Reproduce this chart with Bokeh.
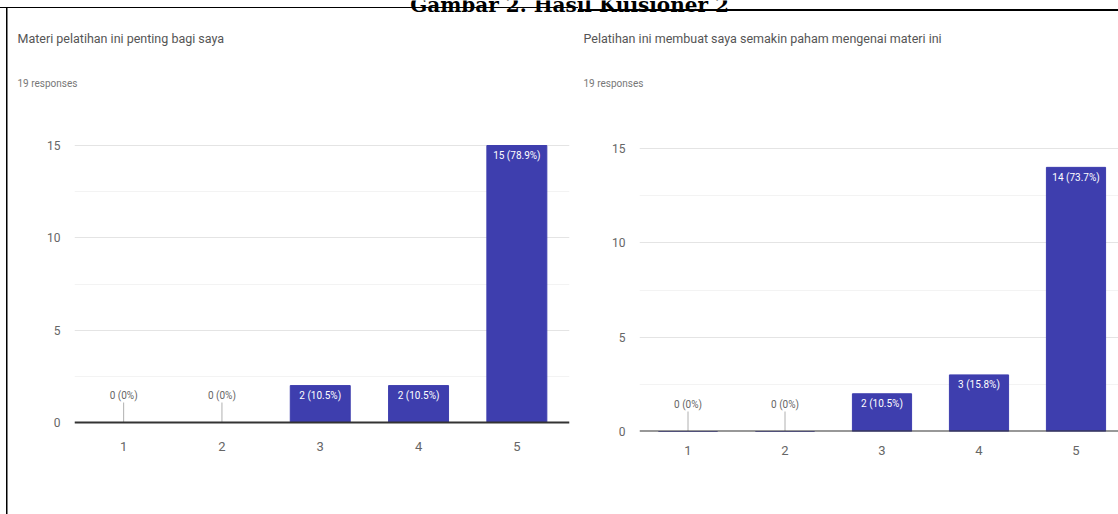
from bokeh.plotting import figure
from bokeh.layouts import row, column
from bokeh.models import ColumnDataSource, Label, Span, FixedTicker, Range1d
from bokeh.core.properties import value
from bokeh.embed import file_html
from bokeh.resources import INLINE

# ---------------- data ----------------
caption = "Gambar 2. Hasil Kuisioner 2"
title_1 = "Materi pelatihan ini penting bagi saya"
title_2 = "Pelatihan ini membuat saya semakin paham mengenai materi ini"
responses_text = "19 responses"
n_responses = 19
categories = [1, 2, 3, 4, 5]
category_labels = ["1", "2", "3", "4", "5"]
values_1 = [0, 0, 2, 2, 15]
values_2 = [0, 0, 2, 3, 14]
y_ticks = [0, 5, 10, 15]
y_minor_ticks = [2.5, 7.5, 12.5]

# ---------------- style / layout ----------------
BAR = "#3e3eae"
FONT = "Roboto"
W = 1118
H = 514
HEAD = 100                 # height of the header strip (texts above the charts)
CH = H - HEAD              # height of the chart figures
FRAME_TOP = 118 - HEAD     # frame top inside chart figures
FRAME_BOTTOM = 431 - HEAD  # frame bottom inside chart figures


def pct_label(v):
    if v == 0:
        return "0 (0%)"
    return f"{v} ({round(v / n_responses * 100, 1)}%)"


def make_chart(vals, off, width, fl, fr, y0px, y15px, spacing, xlab_standoff):
    y0 = y0px - HEAD
    y15 = y15px - HEAD
    ppu = (y0 - y15) / 15.0
    y_end = 15 + (y15 - FRAME_TOP) / ppu
    y_start = -(FRAME_BOTTOM - y0) / ppu
    x_end = 0.5 + (fr - fl) / spacing
    p = figure(width=width, height=CH, x_range=Range1d(0.5, x_end), y_range=Range1d(y_start, y_end),
               output_backend="svg", toolbar_location=None,
               min_border_left=fl - off, min_border_right=off + width - fr,
               min_border_top=FRAME_TOP, min_border_bottom=CH - FRAME_BOTTOM)
    p.outline_line_color = None
    p.background_fill_color = None
    p.border_fill_color = None

    p.xaxis.ticker = FixedTicker(ticks=categories)
    p.xaxis.major_label_overrides = {c: l for c, l in zip(categories, category_labels)}
    p.xaxis.axis_line_color = None
    p.xaxis.major_tick_line_color = None
    p.xaxis.minor_tick_line_color = None
    p.xaxis.major_label_text_font = FONT
    p.xaxis.major_label_text_font_size = "13px"
    p.xaxis.major_label_text_color = "#666666"
    p.xaxis.major_label_standoff = xlab_standoff

    p.yaxis.ticker = FixedTicker(ticks=y_ticks, minor_ticks=y_minor_ticks)
    p.yaxis.axis_line_color = None
    p.yaxis.major_tick_line_color = None
    p.yaxis.minor_tick_line_color = None
    p.yaxis.major_label_text_font = FONT
    p.yaxis.major_label_text_font_size = "12px"
    p.yaxis.major_label_text_color = "#666666"
    p.yaxis.major_label_standoff = 8

    p.xgrid.visible = False
    p.ygrid.grid_line_color = "#e4e4e4"
    p.ygrid.minor_grid_line_color = "#f3f3f3"

    src = ColumnDataSource(dict(x=categories, v=vals))
    p.vbar(x="x", top="v", width=0.61, source=src, fill_color=BAR, line_color=BAR)
    p.add_layout(Span(location=0, dimension="width", line_color="#333333", line_width=2))

    nz = [i for i, v in enumerate(vals) if v > 0]
    zz = [i for i, v in enumerate(vals) if v == 0]
    src_nz = ColumnDataSource(dict(x=[categories[i] for i in nz], v=[vals[i] for i in nz],
                                   lab=[pct_label(vals[i]) for i in nz]))
    src_z = ColumnDataSource(dict(x=[categories[i] for i in zz], v=[vals[i] for i in zz],
                                  top=[vals[i] + 20 / ppu for i in zz],
                                  lab=[pct_label(vals[i]) for i in zz]))
    p.text(x="x", y="v", text="lab", source=src_nz, text_color="white", text_align="center",
           text_baseline="middle", y_offset=10, text_font=value(FONT), text_font_size="10px")
    p.segment(x0="x", y0="v", x1="x", y1="top", source=src_z, line_color="#b0b0b0", line_width=1)
    p.text(x="x", y="v", text="lab", source=src_z, text_color="#666666", text_align="center",
           text_baseline="middle", y_offset=-27, text_font=value(FONT), text_font_size="10px")
    return p


# ---------------- header strip with the texts ----------------
head = figure(width=W, height=HEAD, x_range=Range1d(0, W), y_range=Range1d(0, HEAD),
              x_axis_type=None, y_axis_type=None, output_backend="svg", toolbar_location=None,
              min_border=0)
head.grid.visible = False
head.outline_line_color = None
head.background_fill_color = None
head.border_fill_color = None


def head_label(text, x, baseline_y, size, color, font=FONT, style="normal", align="left"):
    head.add_layout(Label(x=x, y=HEAD - baseline_y, x_units="screen", y_units="screen", text=text,
                          text_font=font, text_font_size=size, text_color=color, text_font_style=style,
                          text_align=align, text_baseline="alphabetic"))


head_label(caption, 569, 4, "20px", "black", font="DejaVu Serif", style="bold", align="center")
head_label(title_1, 17, 38, "12.5px", "#555555")
head_label(responses_text, 17, 83, "10px", "#777777")
head_label(title_2, 583, 38, "12.5px", "#555555")
head_label(responses_text, 583, 83, "10px", "#777777")

left = make_chart(values_1, off=0, width=578, fl=74, fr=569, y0px=422, y15px=145, spacing=98.3,
                  xlab_standoff=4)
right = make_chart(values_2, off=578, width=540, fl=639, fr=1118, y0px=431, y15px=148, spacing=97,
                   xlab_standoff=8)

bg = ("linear-gradient(#000,#000) 0px 7px / 578px 1px no-repeat, "
      "linear-gradient(#000,#000) 578px 9px / 540px 2px no-repeat, "
      "linear-gradient(#000,#000) 6px 7px / 1.5px 507px no-repeat, #ffffff")
layout = column(head, row(left, right), styles={"background": bg})
open("out.html", "w").write(file_html(layout, INLINE))
